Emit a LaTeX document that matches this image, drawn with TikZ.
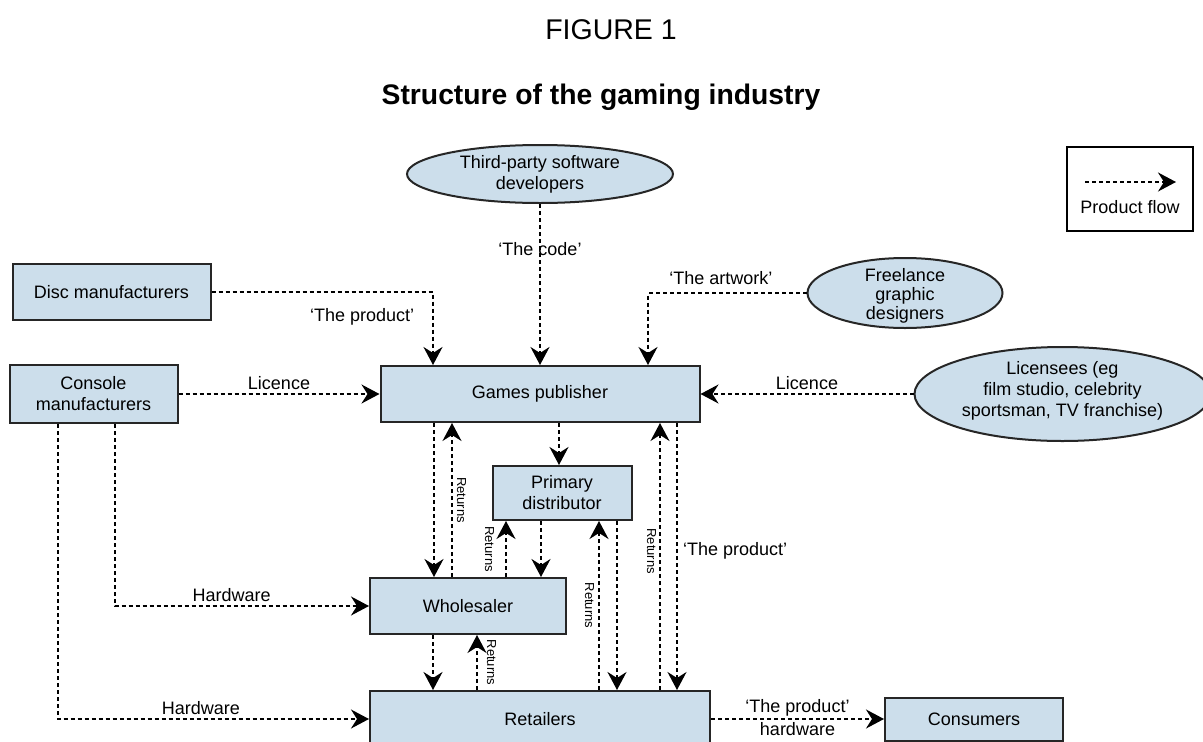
\documentclass[tikz,border=0pt]{standalone}
\usepackage{fontspec}
\setmainfont{Liberation Sans}
\usepackage{tikz}
\usetikzlibrary{arrows.meta,shapes,positioning}
\definecolor{boxblue}{RGB}{204,222,235}

\begin{document}
\begin{tikzpicture}[>={Stealth[length=18pt,width=19pt,inset=6pt]},
    font=\fontsize{18}{21}\selectfont,
    block/.style={rectangle, draw=black!85, fill=boxblue, line width=2pt, align=center, inner sep=2pt},
    oval/.style={ellipse, draw=black!85, fill=boxblue, line width=2pt, inner sep=0pt},
    flow/.style={draw, ->, line width=2pt, dash pattern=on 4pt off 3pt},
    retnote/.style={rotate=-90, font=\fontsize{13}{15}\selectfont, inner sep=4pt}]

    \useasboundingbox (0,0) rectangle (1203pt,-742pt);

    % Headings
    \node [anchor=base, font=\fontsize{28.5}{33}\selectfont] (fig) at (611pt,-39pt) {FIGURE 1};
    \node [anchor=base, font=\bfseries\fontsize{28.3}{34}\selectfont] (title) at (601pt,-104pt) {Structure of the gaming industry};

    % Publisher
    \node [block, minimum width=319pt, minimum height=56pt] (pub) at (540pt,-394pt) {Games publisher};

    % Suppliers
    \node [oval, minimum width=266pt, minimum height=58pt, above=161pt of pub,
        label={[align=center]center:Third-party software\\developers}] (third) {};
    \node [block, minimum width=198pt, minimum height=56pt, above left=44pt and 168pt of pub] (disc) {Disc manufacturers};
    \node [block, minimum width=168pt, minimum height=58pt, left=201pt of pub] (conman) {Console\\manufacturers};
    \node [oval, minimum width=195pt, minimum height=70pt,
        label={[align=center, yshift=-3pt, font=\fontsize{18}{19}\selectfont]center:Freelance\\graphic\\designers}] (free) at (905pt,-293pt) {};
    \node [oval, minimum width=296pt, minimum height=94pt, right=213pt of pub,
        label={[align=center, yshift=3pt]center:Licensees (eg\\film studio, celebrity\\sportsman, TV franchise)}] (lic) {};

    % Distribution chain
    \node [block, minimum width=139pt, minimum height=54pt, below=42pt of pub, xshift=22pt] (dist) {Primary\\distributor};
    \node [block, minimum width=196pt, minimum height=56pt, below=154pt of pub, xshift=-72pt] (whole) {Wholesaler};
    \node [block, minimum width=340pt, minimum height=56pt, below=267pt of pub] (ret) {Retailers};
    \node [block, minimum width=178pt, minimum height=43pt, right=173pt of ret] (cons) {Consumers};

    % Key
    \node [rectangle, draw, line width=2pt, minimum width=126pt, minimum height=84pt] (key) at (1130pt,-189pt) {};
    \coordinate (keyL) at ([shift={(-45pt,7pt)}]key.center);
    \coordinate (keyR) at ([shift={(46pt,7pt)}]key.center);
    \node (keytxt) at ([yshift=-18pt]key.center) {Product flow};
    \path [flow] (keyL) -- (keyR);

    % Into the publisher
    \path [flow] (disc) -| node[pos=0.34, below=12pt] {‘The product’} ([xshift=-107pt]pub.north);
    \path [flow] (third) -- node[pos=0.28] {‘The code’} (pub);
    \path [flow] (free) -| node[pos=0.27, above=4pt] {‘The artwork’} ([xshift=108pt]pub.north);
    \path [flow] (conman) -- node[above] {Licence} (pub);
    \path [flow] (lic) -- node[above] {Licence} (pub);

    % Hardware
    \path [flow] ([xshift=21pt]conman.south) |- node[pos=0.73, above] {Hardware} (whole);
    \path [flow] ([xshift=-36pt]conman.south) |- node[pos=0.73, above] {Hardware} (ret);

    % Publisher, distributor, wholesaler, retailers
    \path [flow] ([xshift=-106pt]pub.south) -- ([xshift=-106pt]pub.south |- whole.north);
    \path [flow] ([xshift=-16pt]whole.north) -- node[retnote, anchor=south] {Returns} ([xshift=-16pt]whole.north |- pub.south);
    \path [flow] ([xshift=-3pt]dist.north |- pub.south) -- ([xshift=-3pt]dist.north);
    \path [flow] ([xshift=-21pt]dist.south) -- ([xshift=-21pt]dist.south |- whole.north);
    \path [flow] ([xshift=38pt]whole.north) -- node[retnote, anchor=north, inner sep=11pt] {Returns} ([xshift=38pt]whole.north |- dist.south);
    \path [flow] ([xshift=59pt]ret.north) -- node[retnote, anchor=north] {Returns} ([xshift=59pt]ret.north |- dist.south);
    \path [flow] ([xshift=55pt]dist.south) -- ([xshift=55pt]dist.south |- ret.north);
    \path [flow] ([xshift=120pt]ret.north) -- node[retnote, anchor=north, pos=0.52, inner sep=3pt] {Returns} ([xshift=120pt]ret.north |- pub.south);
    \path [flow] ([xshift=137pt]pub.south) -- node[pos=0.48, right, inner sep=5pt] {‘The product’} ([xshift=137pt]pub.south |- ret.north);
    \path [flow] ([xshift=-35pt]whole.south) -- ([xshift=-35pt]whole.south |- ret.north);
    \path [flow] ([xshift=9pt]whole.south |- ret.north) -- node[retnote, anchor=south, inner sep=9pt] {Returns} ([xshift=9pt]whole.south);

    % Sales
    \path [flow] (ret) -- node[above, inner sep=2pt] {‘The product’} node[below, inner sep=2pt] {hardware} (cons);

\end{tikzpicture}
\end{document}
